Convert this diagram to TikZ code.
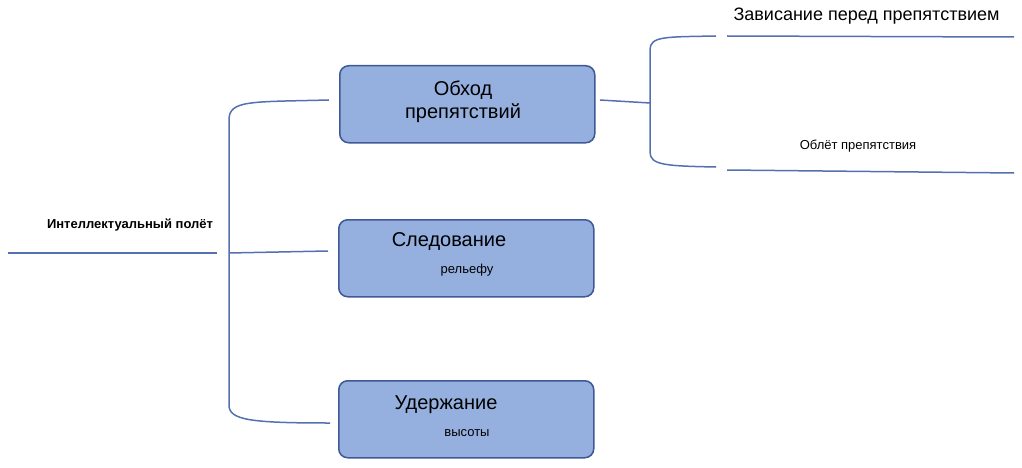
\documentclass[tikz,border=0pt]{standalone}
\usepackage{fontspec}
\setmainfont{Liberation Sans}
\usetikzlibrary{positioning}
\definecolor{boxfill}{RGB}{149, 176, 223}
\definecolor{boxline}{RGB}{63, 88, 150}
\definecolor{branch}{RGB}{84, 112, 176}
\tikzset{
  task/.style={draw=boxline, fill=boxfill, line width=1.5pt, rounded corners=9pt,
    minimum width=255pt, minimum height=77pt, anchor=north west},
  link/.style={draw=branch, line width=1.5pt},
}
\begin{document}
\begin{tikzpicture}[x=1pt, y=-1pt]
  \useasboundingbox (0, 0) rectangle (1022, 468);
  \clip (0, 0) rectangle (1022, 468);

  % root
  \coordinate (rootL) at (8, 253);
  \coordinate (rootR) at (217, 253);
  \draw[link] (rootL) -- (rootR);
  \node[font=\bfseries\fontsize{13}{15}\selectfont] (root) at (130, 225) {Интеллектуальный полёт};

  % boxes
  \node[task] (obhod) at (339, 65) {};
  \node[task] (sled) at (338, 219) {};
  \node[task] (uder) at (338, 380) {};

  \node[font=\fontsize{20}{23}\selectfont, align=center] (obhodT) at (463, 102) {Обход\\препятствий};
  \node[font=\fontsize{20}{23}\selectfont] (sledT) at (449, 242) {Следование};
  \node[font=\fontsize{13}{15}\selectfont] (sledS) at (467, 270) {рельефу};
  \node[font=\fontsize{20}{23}\selectfont] (uderT) at (446, 405) {Удержание};
  \node[font=\fontsize{13}{15}\selectfont] (uderS) at (467, 433) {высоты};

  % left bracket
  \coordinate (bTop) at (329, 100);
  \coordinate (bMid) at (328, 251);
  \coordinate (bBot) at (330, 423);
  \draw[link] (bTop) .. controls (250, 102) and (229, 100) .. (229, 120)
    -- (229, 405) .. controls (229, 420) and (250, 423) .. (bBot);
  \draw[link] (229, 253) -- (bMid);

  % right bracket
  \coordinate (rIn) at (600, 100);
  \coordinate (rTop) at (716, 36);
  \coordinate (rBot) at (716, 167);
  \draw[link] (rIn) -- (650, 103);
  \draw[link] (rTop) .. controls (665, 37) and (650, 36) .. (650, 50)
    -- (650, 152) .. controls (650, 165) and (665, 166) .. (rBot);

  % leaves
  \coordinate (l1a) at (727, 36);
  \coordinate (l1b) at (1014, 37);
  \coordinate (l2a) at (727, 170);
  \coordinate (l2b) at (1014, 173);
  \draw[link] (l1a) -- (l1b);
  \draw[link] (l2a) -- (l2b);
  \node[font=\fontsize{18}{21}\selectfont, anchor=west] (zavis) at (730, 16) {Зависание перед препятствием};
  \node[font=\fontsize{13}{15}\selectfont] (oblet) at (858, 146) {Облёт препятствия};
\end{tikzpicture}
\end{document}
